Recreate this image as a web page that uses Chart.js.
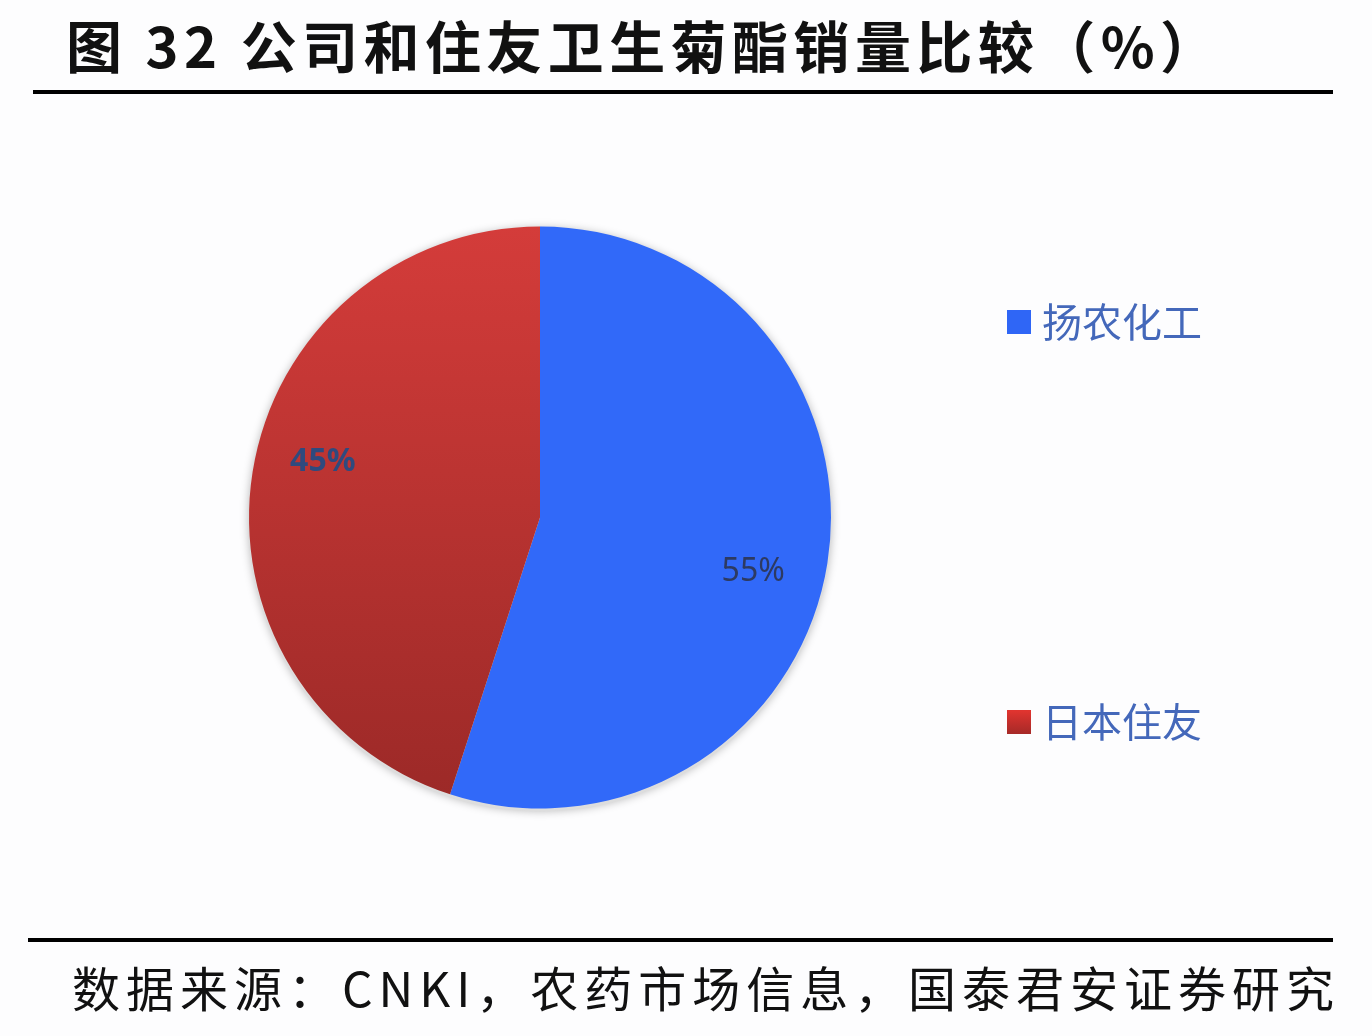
<!DOCTYPE html>
<html><head><meta charset="utf-8">
<script src="https://cdn.jsdelivr.net/npm/chart.js@4"></script>
<style>html,body{margin:0;padding:0;background:#fff;}#wrap{position:relative;width:1372px;height:1036px;}</style>
</head><body><div id="wrap"><canvas id="c" width="1372" height="1036"></canvas></div>
<script>
const titleText = "图 32 公司和住友卫生菊酯销量比较（%）";
const sourceText = "数据来源：CNKI，农药市场信息，国泰君安证券研究";
const categories = ["扬农化工", "日本住友"];
const shares = [55, 45];
const labelTexts = ["55%", "45%"];

function fitText(ctx, text, x, y, targetW) {
  ctx.letterSpacing = "0px";
  const w = ctx.measureText(text).width;
  const n = [...text].length;
  const ls = (targetW - w) / (n - 1);
  ctx.letterSpacing = ls + "px";
  ctx.fillText(text, x, y);
  ctx.letterSpacing = "0px";
}

const decor = {
  id: 'decor',
  beforeDraw(chart) {
    const ctx = chart.ctx;
    ctx.save();
    ctx.fillStyle = '#fdfdfe';
    ctx.fillRect(0, 0, chart.width, chart.height);
    ctx.fillStyle = '#000';
    ctx.fillRect(33, 90, 1300, 4);
    ctx.fillRect(28, 938, 1305, 4);
    ctx.textBaseline = 'middle';
    ctx.textAlign = 'left';
    ctx.fillStyle = '#111';
    ctx.font = 'bold 56px "Noto Sans CJK SC"';
    fitText(ctx, titleText, 66, 47, 1150);
    ctx.font = '48px "Noto Sans CJK SC"';
    fitText(ctx, sourceText, 72, 989, 1262);
    // shadow behind pie
    const arc = chart.getDatasetMeta(0).data[0];
    if (arc) {
      ctx.beginPath();
      ctx.arc(arc.x, arc.y + 2, arc.outerRadius + 1, 0, Math.PI * 2);
      ctx.shadowColor = 'rgba(0,0,0,0.25)';
      ctx.shadowBlur = 8;
      ctx.fillStyle = '#ddd';
      ctx.fill();
    }
    ctx.restore();
  },
  afterDraw(chart) {
    const ctx = chart.ctx;
    const meta = chart.getDatasetMeta(0);
    ctx.save();
    ctx.textAlign = 'center';
    ctx.textBaseline = 'middle';
    meta.data.forEach((a, i) => {
      const mid = (a.startAngle + a.endAngle) / 2 + 0.092;
      const r = a.outerRadius * (i === 0 ? 0.756 : 0.77);
      const x = a.x + Math.cos(mid) * r;
      const y = a.y + Math.sin(mid) * r;
      ctx.fillStyle = i === 0 ? '#2d3a62' : '#2f4a7e';
      ctx.font = (i === 0 ? '' : 'bold ') + '32px "Noto Sans"';
      ctx.fillText(labelTexts[i], x, y);
    });
    // legend
    const legY = [322, 722];
    categories.forEach((c, i) => {
      const y = legY[i];
      if (i === 0) ctx.fillStyle = '#2f66f6';
      else {
        const g = ctx.createLinearGradient(0, y - 11, 0, y + 11);
        g.addColorStop(0, '#e0342f'); g.addColorStop(1, '#a82a28');
        ctx.fillStyle = g;
      }
      ctx.fillRect(1007, y - 12, 24, 24);
      ctx.fillStyle = '#4468ba';
      ctx.font = '40px "Noto Sans CJK SC"';
      ctx.textAlign = 'left';
      ctx.fillText(c, 1042, y);
    });
    ctx.restore();
  }
};

new Chart(document.getElementById('c'), {
  type: 'pie',
  data: {
    labels: categories,
    datasets: [{
      data: shares,
      backgroundColor: (context) => {
        const i = context.dataIndex;
        if (i === 0) return '#3169f9';
        const ch = context.chart;
        const g = ch.ctx.createLinearGradient(0, 226, 0, 808);
        g.addColorStop(0, '#d43c3a');
        g.addColorStop(1, '#9b2927');
        return g;
      },
      borderWidth: 0
    }]
  },
  options: {
    responsive: false,
    animation: false,
    layout: { padding: { left: 249, right: 541, top: 226, bottom: 227 } },
    plugins: { legend: { display: false }, tooltip: { enabled: false } }
  },
  plugins: [decor]
});
</script></body></html>
